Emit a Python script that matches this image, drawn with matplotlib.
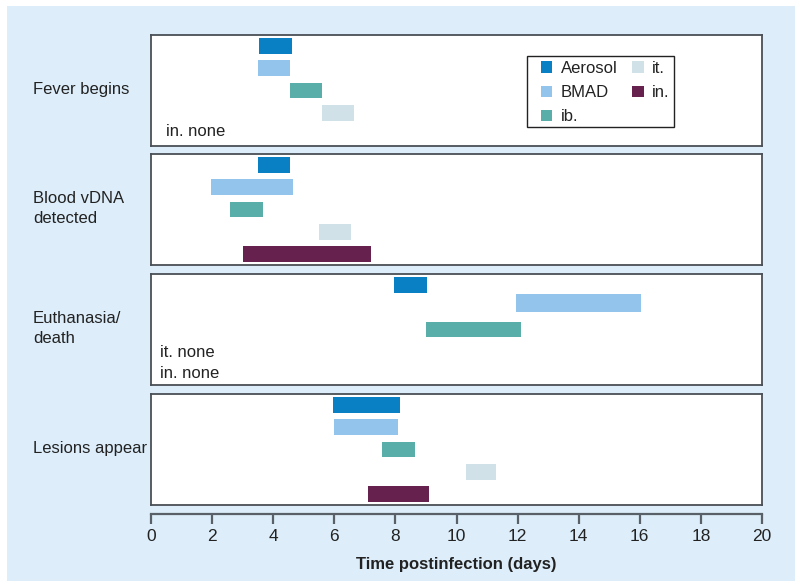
import matplotlib
matplotlib.use("Agg")
import matplotlib.pyplot as plt
from matplotlib.patches import Rectangle, Patch

plt.rcParams['font.family'] = ['Liberation Sans', 'DejaVu Sans']

# ---- data ----
categories = ["Fever begins", "Blood vDNA\ndetected", "Euthanasia/\ndeath", "Lesions appear"]
routes = ["Aerosol", "BMAD", "ib.", "it.", "in."]
route_colors = ["#0a80c4", "#93c5ec", "#5aaeaa", "#d0e2e7", "#66214f"]

fever_start = [3.55, 3.5, 4.55, 5.6, None]
fever_end = [4.6, 4.55, 5.6, 6.65, None]
blood_start = [3.5, 1.95, 2.6, 5.5, 3.0]
blood_end = [4.55, 4.65, 3.65, 6.55, 7.2]
death_start = [7.95, 11.95, 9.0, None, None]
death_end = [9.05, 16.05, 12.1, None, None]
lesion_start = [5.95, 6.0, 7.55, 10.3, 7.1]
lesion_end = [8.15, 8.1, 8.65, 11.3, 9.1]

notes = [["in. none"], [], ["it. none", "in. none"], []]
x_ticks = [0, 2, 4, 6, 8, 10, 12, 14, 16, 18, 20]
x_label = "Time postinfection (days)"

starts = [fever_start, blood_start, death_start, lesion_start]
ends = [fever_end, blood_end, death_end, lesion_end]

# ---- layout ----
W, H = 800, 586
fig = plt.figure(figsize=(W / 100, H / 100), dpi=100)
fig.patch.set_facecolor("white")
bg = "#ddeefa"
fig.patches.append(Rectangle((7 / W, 1 - 581 / H), (795 - 7) / W, (581 - 6) / H,
                             transform=fig.transFigure, facecolor=bg,
                             edgecolor="none", zorder=-10))

def fx(px):
    return px / W

def fy(py):
    return 1 - py / H

panel_tops = [35, 154, 274, 394]
panel_h = 111
left, right = 151, 762
frame_color = "#4a4f55"
text_color = "#222222"

# row positions (panel 3 BMAD bar sits slightly higher/taller in the reference)
row_pos = [[0, 1, 2, 3, 4], [0, 1, 2, 3, 4], [0, 0.82, 2, 3, 4], [0, 1, 2, 3, 4]]
row_h = [[0.72] * 5, [0.72] * 5, [0.72, 0.8, 0.72, 0.72, 0.72], [0.72] * 5]
note_x = [0.024, 0, 0.015, 0]
note_y = [[0.13], [], [0.29, 0.108], []]

axes = []
for i, top in enumerate(panel_tops):
    ax = fig.add_axes([fx(left), fy(top + panel_h), fx(right - left), panel_h / H])
    ax.set_xlim(0, 20)
    ax.set_ylim(4.5, -0.5)
    ax.set_xticks([])
    ax.set_yticks([])
    for s in ax.spines.values():
        s.set_color(frame_color)
        s.set_linewidth(1.3)
    for j, r in enumerate(routes):
        s0, e0 = starts[i][j], ends[i][j]
        if s0 is None:
            continue
        ax.barh(row_pos[i][j], e0 - s0, left=s0, height=row_h[i][j],
                color=route_colors[j], edgecolor="none")
    for k, t in enumerate(notes[i]):
        ax.text(note_x[i], note_y[i][k], t, transform=ax.transAxes, fontsize=12,
                color=text_color, ha="left", va="center")
    fig.text(fx(33), fy(top + panel_h / 2 - 1), categories[i], fontsize=12,
             color=text_color, ha="left", va="center", linespacing=1.45)
    axes.append(ax)

# legend in first panel (frame drawn separately)
ax0 = axes[0]
def ax_x(px):
    return (px - left) / (right - left)

def ax_y(py):
    return (panel_tops[0] + panel_h - py) / panel_h

ax0.add_patch(Rectangle((ax_x(527), ax_y(127)), (674 - 527) / (right - left),
                        (127 - 56) / panel_h, transform=ax0.transAxes,
                        facecolor="white", edgecolor="#222222", linewidth=1.0,
                        zorder=3))
handles = [Patch(facecolor=c, edgecolor="none", label=r) for r, c in zip(routes, route_colors)]
leg = ax0.legend(handles=handles, ncol=2, loc="upper left",
                 bbox_to_anchor=(ax_x(541), ax_y(61)), borderaxespad=0,
                 fontsize=12, frameon=False, handlelength=0.68,
                 handleheight=0.68, handletextpad=0.5, columnspacing=0.9,
                 labelspacing=0.55, borderpad=0)
leg.set_zorder(4)
for t in leg.get_texts():
    t.set_color(text_color)

# x-axis
axx = fig.add_axes([fx(left), fy(514), fx(right - left), 0.0001])
axx.set_xlim(0, 20)
axx.set_ylim(0, 1)
axx.patch.set_alpha(0)
for s in ["left", "right", "top"]:
    axx.spines[s].set_visible(False)
axx.spines["bottom"].set_color("#5a6068")
axx.spines["bottom"].set_linewidth(1.6)
axx.set_yticks([])
axx.set_xticks(x_ticks)
axx.set_xticklabels([str(t) for t in x_ticks])
axx.tick_params(axis="x", direction="out", length=7, width=1.6, color="#5a6068",
                labelsize=12.5, labelcolor=text_color, pad=4)
axx.set_xlabel(x_label, fontsize=12, fontweight="bold", color=text_color, labelpad=9)

fig.savefig("out.png", dpi=100, facecolor=fig.get_facecolor())
